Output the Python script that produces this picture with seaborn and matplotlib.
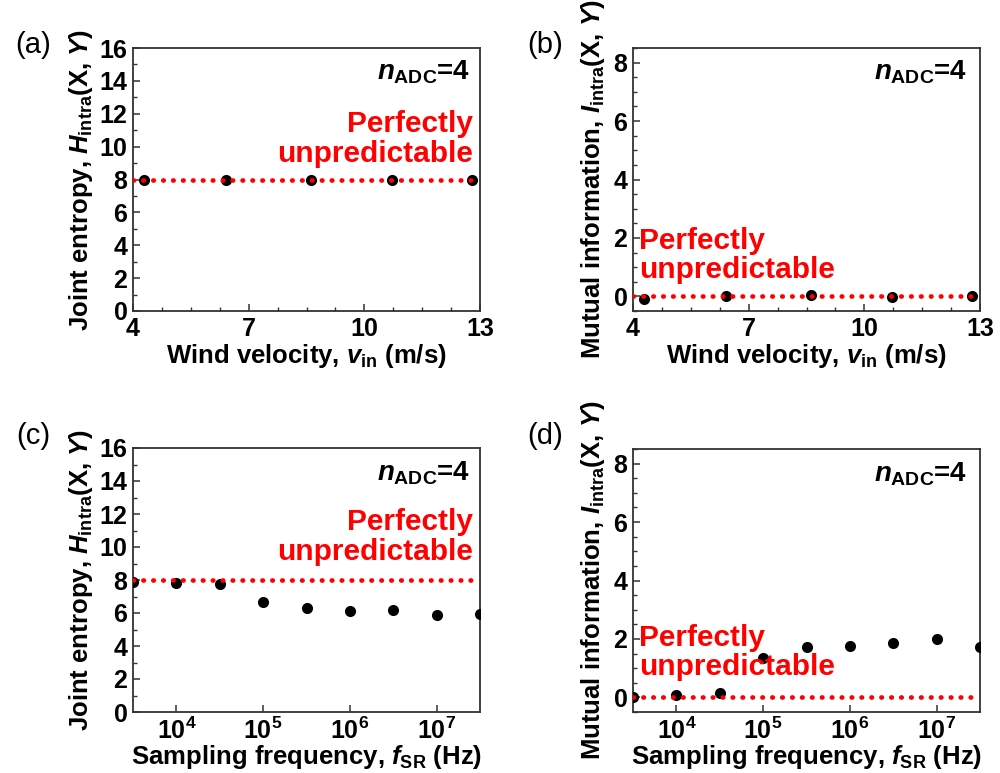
import numpy as np
import pandas as pd
import matplotlib
matplotlib.use("Agg")
import matplotlib.pyplot as plt
import seaborn as sns
from matplotlib.ticker import FixedLocator, FixedFormatter, NullLocator, MultipleLocator

# ---- data ----
wind_v = [4.29, 6.40, 8.61, 10.71, 12.78]
joint_entropy_wind = [7.98, 7.99, 7.98, 7.98, 7.99]
mutual_info_wind = [-0.10, 0.01, 0.06, -0.02, 0.02]

fsr = [3162, 10000, 31623, 100000, 316228, 1000000, 3162278, 10000000, 31622777]
joint_entropy_fsr = [7.86, 7.82, 7.76, 6.68, 6.29, 6.11, 6.21, 5.87, 5.93]
mutual_info_fsr = [0.02, 0.09, 0.15, 1.34, 1.74, 1.77, 1.85, 1.99, 1.74]

ideal_entropy = 8
ideal_mutual = 0
wind_ticks = [4, 7, 10, 13]
wind_minor = [4.75, 5.5, 6.25, 7.75, 8.5, 9.25, 10.75, 11.5, 12.25]
log_ticks = [1e4, 1e5, 1e6, 1e7]
log_ticklabels = [r"$\mathbf{10^{4}}$", r"$\mathbf{10^{5}}$", r"$\mathbf{10^{6}}$", r"$\mathbf{10^{7}}$"]

sns.set_theme(style="ticks")
plt.rcParams["font.family"] = ["Liberation Sans", "DejaVu Sans"]
plt.rcParams["font.weight"] = "bold"
plt.rcParams["text.color"] = "black"
plt.rcParams["axes.labelcolor"] = "black"
plt.rcParams["xtick.labelcolor"] = "black"
plt.rcParams["ytick.labelcolor"] = "black"
plt.rcParams["mathtext.fontset"] = "custom"
plt.rcParams["mathtext.rm"] = "Liberation Sans:bold"
plt.rcParams["mathtext.bf"] = "Liberation Sans:bold"
plt.rcParams["mathtext.it"] = "Liberation Sans:bold:italic"
plt.rcParams["mathtext.default"] = "bf"

fig = plt.figure(figsize=(10, 7.73), dpi=100)
W, H = 1000, 773

def add_ax(l, r, t, b):
    return fig.add_axes([l / W, 1 - b / H, (r - l) / W, (b - t) / H])

ax_a = add_ax(133, 480, 48, 311)
ax_b = add_ax(633, 980, 48, 311)
ax_c = add_ax(133, 480, 448, 712)
ax_d = add_ax(633, 980, 449, 712)

TICK = 18
LAB = 18.5
RED = "#ff0000"

def style(ax):
    for s in ax.spines.values():
        s.set_color("#333333")
        s.set_linewidth(1.3)
    ax.tick_params(which="both", direction="in", top=False, right=False, color="#333333", labelcolor="black")
    ax.tick_params(which="major", length=5, width=1.1, labelsize=TICK, pad=4)
    ax.tick_params(which="minor", length=3, width=1.0)
    for lab in ax.get_xticklabels() + ax.get_yticklabels():
        lab.set_fontweight("bold")

def draw(ax, x, y, ideal):
    df = pd.DataFrame({"x": x, "y": y})
    sns.scatterplot(data=df, x="x", y="y", ax=ax, color="black", s=64, linewidth=0, zorder=3, clip_on=True)
    ax.axhline(ideal, color=RED, lw=3.4, linestyle=(0, (0.1, 2.0)), dash_capstyle="round", zorder=4)

def nadc(ax, x, y):
    ax.text(x, y, r"$\mathit{n}_{\mathrm{ADC}}$=4", transform=ax.transAxes, ha="right", va="center",
            fontsize=20, fontweight="bold", color="black")

def perfect(ax, x, y, ha):
    ax.text(x, y, "Perfectly\nunpredictable", transform=ax.transAxes, ha=ha, va="center",
            multialignment=ha, fontsize=21.5, fontweight="bold", color=RED, linespacing=1.05)

def wind_axis(ax):
    ax.set_xlim(4, 13)
    ax.xaxis.set_major_locator(FixedLocator(wind_ticks))
    ax.xaxis.set_minor_locator(FixedLocator(wind_minor))
    ax.set_xlabel(r"Wind velocity, $\mathit{v}_{\mathrm{in}}$ (m/s)", fontsize=LAB, fontweight="bold", labelpad=1)

def log_axis(ax):
    ax.set_xscale("log")
    ax.set_xlim(3162, 31622777)
    ax.xaxis.set_major_locator(FixedLocator(log_ticks))
    ax.xaxis.set_major_formatter(FixedFormatter(log_ticklabels))
    ax.xaxis.set_minor_locator(NullLocator())
    ax.set_xlabel(r"Sampling frequency, $\mathit{f}_{\mathrm{SR}}$ (Hz)", fontsize=LAB, fontweight="bold", labelpad=-1)

def entropy_axis(ax):
    ax.set_ylim(0, 16)
    ax.yaxis.set_major_locator(MultipleLocator(2))
    ax.yaxis.set_minor_locator(MultipleLocator(1))
    ax.set_ylabel(r"Joint entropy, $\mathit{H}_{\mathrm{intra}}$(X, $\mathit{Y}$)", fontsize=LAB, fontweight="bold", labelpad=3)

def mutual_axis(ax):
    ax.set_ylim(-0.5, 8.5)
    ax.yaxis.set_major_locator(MultipleLocator(2))
    ax.yaxis.set_minor_locator(MultipleLocator(0.5))
    ax.set_ylabel(r"Mutual information, $\mathit{I}_{\mathrm{intra}}$(X, $\mathit{Y}$)", fontsize=LAB, fontweight="bold", labelpad=5)

# (a)
draw(ax_a, wind_v, joint_entropy_wind, ideal_entropy)
wind_axis(ax_a); entropy_axis(ax_a)
nadc(ax_a, 0.971, 0.909)
perfect(ax_a, 0.98, 0.654, "right")
style(ax_a)

# (b)
draw(ax_b, wind_v, mutual_info_wind, ideal_mutual)
wind_axis(ax_b); mutual_axis(ax_b)
nadc(ax_b, 0.962, 0.909)
perfect(ax_b, 0.017, 0.211, "left")
style(ax_b)

# (c)
draw(ax_c, fsr, joint_entropy_fsr, ideal_entropy)
log_axis(ax_c); entropy_axis(ax_c)
nadc(ax_c, 0.971, 0.905)
perfect(ax_c, 0.98, 0.663, "right")
style(ax_c)

# (d)
draw(ax_d, fsr, mutual_info_fsr, ideal_mutual)
log_axis(ax_d); mutual_axis(ax_d)
nadc(ax_d, 0.962, 0.905)
perfect(ax_d, 0.017, 0.225, "left")
style(ax_d)

# panel labels
for lbl, x, y in [("(a)", 33, 45), ("(b)", 545, 45), ("(c)", 33, 436), ("(d)", 545, 436)]:
    fig.text(x / W, 1 - y / H, lbl, ha="center", va="center", fontsize=21, fontweight="normal", color="black")

fig.savefig("out.png", dpi=100)
